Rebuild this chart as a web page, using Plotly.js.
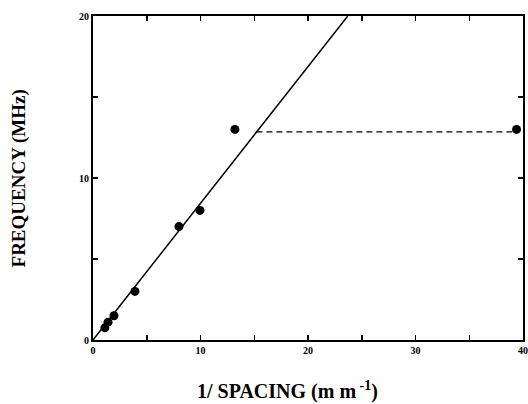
<!DOCTYPE html>
<html><head><meta charset="utf-8">
<script src="https://cdn.plot.ly/plotly-3.0.1.min.js"></script>
<style>body{margin:0;background:#fff}#g{width:528px;height:404px}</style>
</head><body><div id="g"></div>
<script>
var ptX = [1.1, 1.4, 1.95, 3.9, 8.0, 9.95, 13.2, 39.4];
var ptY = [0.75, 1.1, 1.5, 3.0, 7.0, 8.0, 13.0, 13.0];
var fitX = [0, 23.7];
var fitY = [0, 20];
var dashX = [15.2, 39.0];
var dashY = [12.85, 12.85];
var xTitle = '1/ SPACING (m m<sup> -1</sup>)';
var yTitle = 'FREQUENCY (MHz)';

var font = 'Liberation Serif, serif';
var traces = [
  {x: fitX, y: fitY, mode: 'lines', line: {color: '#000', width: 1.5}, hoverinfo: 'skip'},
  {x: dashX, y: dashY, mode: 'lines', line: {color: '#000', width: 1.3, dash: '6px,4px'}, hoverinfo: 'skip'},
  {x: ptX, y: ptY, mode: 'markers', marker: {color: '#000', size: 9}}
];
var axisCommon = {
  showgrid: false, zeroline: false, showline: true, linecolor: '#000', linewidth: 2,
  mirror: 'allticks', ticks: 'inside', ticklen: 5, tickwidth: 1.5, tickcolor: '#000',
  minor: {dtick: 5, ticks: 'inside', ticklen: 5, tickwidth: 1.5, tickcolor: '#000', showgrid: false},
  tickfont: {family: font, size: 10, color: '#000', weight: 'bold'}
};
var layout = {
  width: 528, height: 404,
  margin: {l: 93, r: 5, t: 16, b: 64},
  showlegend: false,
  paper_bgcolor: '#fff', plot_bgcolor: '#fff',
  xaxis: Object.assign({}, axisCommon, {range: [0, 40], dtick: 10, tick0: 0}),
  yaxis: Object.assign({}, axisCommon, {range: [0, 20], dtick: 10, tick0: 0}),
  annotations: [
    {text: xTitle, xref: 'paper', yref: 'paper', x: 0.453, y: -0.155, xanchor: 'center', yanchor: 'middle',
     showarrow: false, font: {family: font, size: 20, color: '#000', weight: 'bold'}},
    {text: yTitle, xref: 'paper', yref: 'paper', x: -0.171, y: 0.5, xanchor: 'center', yanchor: 'middle',
     textangle: -90, showarrow: false, font: {family: font, size: 19, color: '#000', weight: 'bold'}}
  ]
};
Plotly.newPlot('g', traces, layout, {displayModeBar: false, staticPlot: true});
</script></body></html>
